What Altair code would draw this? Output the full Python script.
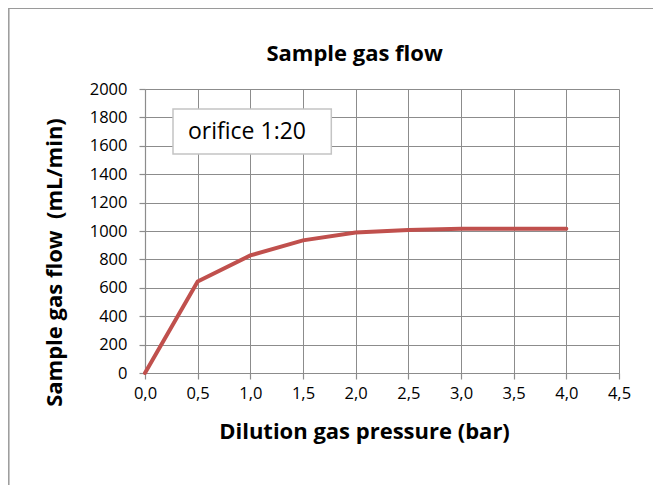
import altair as alt
import pandas as pd

pressure = [0.0, 0.5, 1.0, 1.5, 2.0, 2.5, 3.0, 3.5, 4.0]
flow = [0, 645, 828, 934, 989, 1007, 1015, 1016, 1016]
x_ticks = [0.0, 0.5, 1.0, 1.5, 2.0, 2.5, 3.0, 3.5, 4.0, 4.5]
y_ticks = [0, 200, 400, 600, 800, 1000, 1200, 1400, 1600, 1800, 2000]
note = "orifice 1:20"
chart_title = "Sample gas flow"
x_title = "Dilution gas pressure (bar)"
y_title = "Sample gas flow \u00a0(mL/min)"

df = pd.DataFrame({"p": pressure, "f": flow})

FONT = "Open Sans"
GRAY = "#8c8c8c"
W, H = 474, 284

xscale = alt.Scale(domain=[0, 4.5], nice=False, zero=False)
yscale = alt.Scale(domain=[0, 2000], nice=False)

line = alt.Chart(df).mark_line(color="#C0504D", strokeWidth=4, strokeCap="round").encode(
    x=alt.X("p:Q", scale=xscale,
            axis=alt.Axis(values=x_ticks, title=x_title,
                          labelExpr="replace(format(datum.value, '.1f'), '.', ',')",
                          titleX=219, titleY=58, titleAlign="center", titleBaseline="middle",
                          labelPadding=6)),
    y=alt.Y("f:Q", scale=yscale,
            axis=alt.Axis(values=y_ticks, title=y_title, format="d",
                          titleX=-91, titleY=173, titleAngle=270, titleAlign="center",
                          titleBaseline="middle", labelPadding=12)),
)

frame = alt.Chart(pd.DataFrame({"a": [0]})).mark_rect(
    fill=None, stroke="#9a9a9a", strokeWidth=1.5
).encode(x=alt.value(-136.2), x2=alt.value(700), y=alt.value(-80.8), y2=alt.value(600))

box = alt.Chart(pd.DataFrame({"a": [0]})).mark_rect(
    fill="white", stroke="#c4c4c4", strokeWidth=1.5
).encode(x=alt.value(28), x2=alt.value(186.3), y=alt.value(20), y2=alt.value(65))

label = alt.Chart(pd.DataFrame({"t": [note]})).mark_text(
    font=FONT, fontSize=23, align="center", baseline="middle", color="#000000"
).encode(text="t:N", x=alt.value(102), y=alt.value(42.5))

title = alt.Chart(pd.DataFrame({"t": [chart_title]})).mark_text(
    font=FONT, fontSize=22, fontWeight="bold", align="center", baseline="middle", color="#000000"
).encode(text="t:N", x=alt.value(209.6), y=alt.value(-35))

chart = alt.layer(frame, line, box, label, title).properties(
    width=W, height=H,
    autosize=alt.AutoSizeParams(type="none"),
    padding={"left": 137, "top": 81, "right": 34, "bottom": 112},
).configure_view(stroke=None).configure_axis(
    grid=True, gridColor=GRAY, gridWidth=1, domainColor=GRAY, domainWidth=1.2,
    tickColor=GRAY, tickSize=6, tickWidth=1.2,
    labelFont=FONT, labelFontSize=16.5, labelColor="#000000",
    titleFont=FONT, titleFontSize=22, titleFontWeight="bold", titleColor="#000000",
).configure_axisX(labelFlush=False).configure_axisY(labelFlush=False)

chart.save("out.html", embed_options={"renderer": "svg", "actions": False})
